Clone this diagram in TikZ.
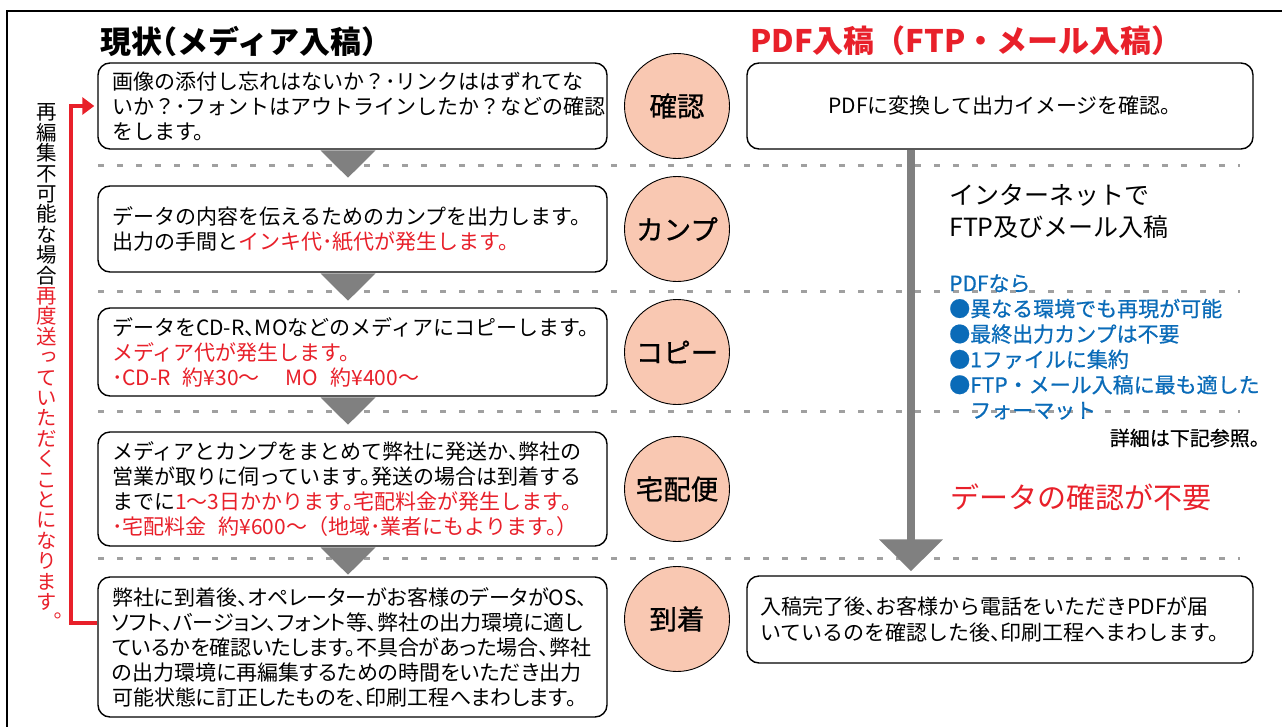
\documentclass[tikz,border=0pt]{standalone}
\usepackage{fontspec}
\usepackage{newunicodechar}
\setmainfont{Noto Sans CJK JP}
\newfontfamily\halfjp{Noto Sans CJK JP}[RawFeature=+halt]
\newfontfamily\propjp{Noto Sans CJK JP}[RawFeature=+palt]
\newfontfamily\medjp{Noto Sans CJK JP}[FakeBold=0.7]
\newfontfamily\vertjp{Noto Sans CJK JP}[RawFeature=+vert]
\usetikzlibrary{arrows.meta, positioning}

% half-width 、 and 。 inside lines
\newcommand{\punckern}{\kern-0.5em}
\newunicodechar{、}{\symbol{"3001}\punckern}
\newunicodechar{。}{\symbol{"3002}\punckern}

\definecolor{peach}{HTML}{F9C8B2}
\definecolor{jred}{HTML}{E8202A}
\definecolor{jblue}{HTML}{0A6BB8}
\definecolor{arrowgrey}{HTML}{808080}
\definecolor{dotgrey}{HTML}{A0A0A0}

\newcommand{\bodyfont}{\fontsize{21}{25}\selectfont}
\newcommand{\headfont}{\fontsize{31}{34}\selectfont\bfseries}

\tikzset{
  plaintext/.style={inner sep=0pt},
  flowbox/.style={draw, line width=1.4pt, rounded corners=12pt, fill=white,
    text width=481pt, inner xsep=14pt, inner ysep=2pt, align=left, font=\bodyfont},
  stage/.style={circle, draw, line width=0.9pt, fill=peach, minimum size=105pt,
    inner sep=0pt, font=\medjp\fontsize{27.5}{30}\selectfont},
  rowline/.style={dotgrey, line width=3pt, dash pattern=on 6pt off 13pt},
}

\begin{document}
\begin{tikzpicture}[x=1pt, y=-1pt]
        \useasboundingbox (0,0) rectangle (1282,726);
        \clip (0,0) rectangle (1282,726);

        % Frame
        \draw[line width=1.5pt] (7,740) -- (7,11) -- (1290,11);

        % Titles
        \node[plaintext, anchor=west, font=\halfjp\headfont] (headnow) at (100,41) {現状（メディア入稿）};
        \node[plaintext, anchor=west, font=\headfont, text=jred] (headpdf) at (750,41) {PDF入稿（FTP・メール入稿）};

        % Separators
        \foreach \y in {165,291,411,558}
          \draw[rowline] (98,\y) -- (1240,\y);

        % Current workflow
        \node[flowbox, minimum height=86pt] (now1) at (352.5,106)
          {画像の添付し忘れはないか？･リンクははずれてな\\いか？･フォントはアウトラインしたか？などの確認\\をします。};
        \node[flowbox, minimum height=86pt] (now2) at (352.5,229)
          {データの内容を伝えるためのカンプを出力します。\\出力の手間と\textcolor{jred}{インキ代･紙代が発生します。}};
        \node[flowbox, minimum height=88pt] (now3) at (352.5,352)
          {データをCD-R、MOなどのメディアにコピーします。\\\textcolor{jred}{メディア代が発生します。}\\\textcolor{jred}{･CD-R\hspace{12pt}約¥30〜\hspace{26pt}MO\hspace{12pt}約¥400〜}};
        \node[flowbox, minimum height=114pt] (now4) at (352.5,489)
          {メディアとカンプをまとめて弊社に発送か、弊社の\\営業が取りに伺っています。発送の場合は到着する\\までに\textcolor{jred}{1〜3日かかります。宅配料金が発生します。}\\\textcolor{jred}{･宅配料金\hspace{12pt}約¥600〜（地域･業者にもよります。）}};
        \node[flowbox, minimum height=140pt, font=\propjp\bodyfont\let\punckern\relax] (now5) at (352.5,647)
          {弊社に到着後、オペレーターがお客様のデータがOS、\\ソフト、バージョン、フォント等、弊社の出力環境に適し\\ているかを確認いたします。不具合があった場合、弊社\\の出力環境に再編集するための時間をいただき出力\\可能状態に訂正したものを、印刷工程へまわします。};

        % Stages
        \node[stage] (check) at (677,106) {確認};
        \node[stage] (proof) at (677,229) {カンプ};
        \node[stage] (copy) at (677,352) {コピー};
        \node[stage] (courier) at (677,489) {宅配便};
        \node[stage] (arrive) at (677,619) {到着};

        % PDF workflow
        \node[flowbox, text width=480pt, inner xsep=13pt, minimum height=86pt, align=center] (pdf1) at (1000,106)
          {PDFに変換して出力イメージを確認。};
        \node[flowbox, text width=480pt, inner xsep=13pt, minimum height=87pt, font=\fontsize{21}{26}\selectfont] (pdf5) at (1000,619.5)
          {入稿完了後、お客様から電話をいただきPDFが届\\いているのを確認した後、印刷工程へまわします。};

        % Down arrows
        \foreach \b in {now1,now2,now3,now4}
          \fill[arrowgrey] ([xshift=-32pt,yshift=-0.7pt]\b.south) -- ([xshift=23pt,yshift=-0.7pt]\b.south)
            -- ([xshift=-4.5pt,yshift=-28pt]\b.south) -- cycle;
        \draw[arrowgrey, line width=8pt, -{Triangle[width=62pt,length=32pt]}]
          ([xshift=-89pt]pdf1.south) -- ([xshift=-89pt,yshift=4pt]pdf5.north);

        % Red return
        \coordinate (back) at (71,623);
        \draw[jred, line width=4pt, -{Triangle[width=17pt,length=12pt]}]
          ([yshift=24pt]now5.west) -- (back) |- ([xshift=-3pt]now1.west);
        \node[plaintext, text width=21pt, align=center, font=\vertjp\fontsize{20.5}{20.4}\selectfont] (note) at (47,367)
          {再\\編\\集\\不\\可\\能\\な\\場\\合\\\color{jred}再\\度\\送\\っ\\て\\い\\た\\だ\\く\\こ\\と\\に\\な\\り\\ま\\す\\。};

        % Right side
        \node[plaintext, anchor=west, align=left, font=\fontsize{25}{32}\selectfont] (net) at (949,211)
          {インターネットで\\FTP及びメール入稿};
        \node[plaintext, anchor=west, align=left, text=jblue, font=\medjp\fontsize{21}{25.4}\selectfont] (merits) at (949,347)
          {PDFなら\\●異なる環境でも再現が可能\\●最終出力カンプは不要\\●1ファイルに集約\\●FTP・メール入稿に最も適した\\\phantom{●}フォーマット};
        \node[plaintext, anchor=east, font=\medjp\fontsize{20}{22}\selectfont] (details) at (1260,438) {詳細は下記参照。};
        \node[plaintext, anchor=west, text=jred, font=\fontsize{29}{32}\selectfont] (nocheck) at (950,497) {データの確認が不要};

\end{tikzpicture}
\end{document}
